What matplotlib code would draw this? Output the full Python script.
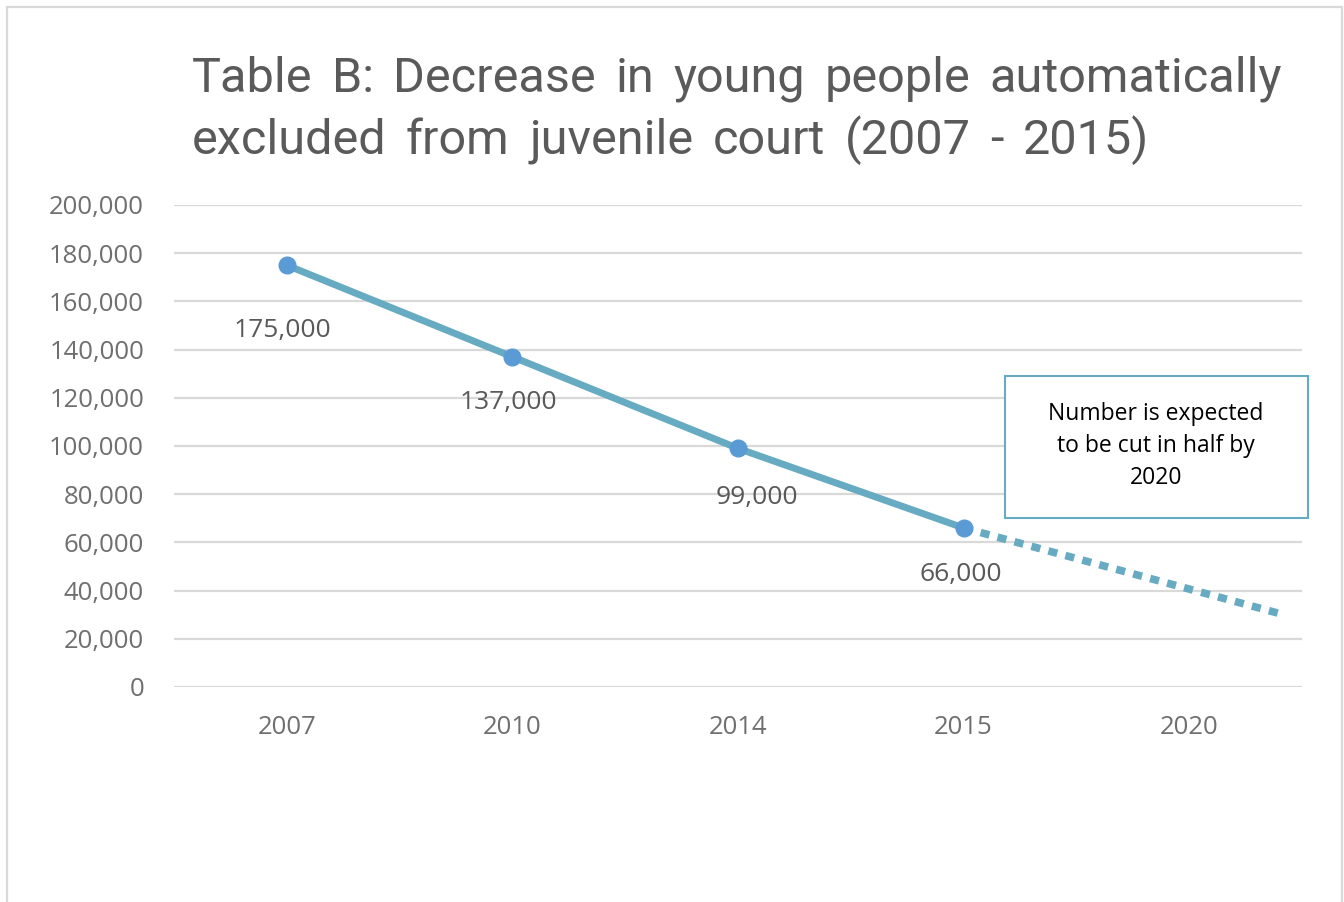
import matplotlib
matplotlib.use("Agg")
import matplotlib.pyplot as plt
from matplotlib.patches import Rectangle
from matplotlib.ticker import FuncFormatter

# ---- data ----
categories = ["2007", "2010", "2014", "2015", "2020"]
actual_values = [175000, 137000, 99000, 66000]
projection_positions = [3, 4.4]
projection_values = [66000, 30500]
label_texts = ["175,000", "137,000", "99,000", "66,000"]
title_lines = ["Table B: Decrease in young people automatically",
               "excluded from juvenile court (2007 - 2015)"]
note_text = "Number is expected\nto be cut in half by\n2020"

W, H = 1344, 902
fig = plt.figure(figsize=(W / 100, H / 100), dpi=100)
fig.patch.set_facecolor("white")

# outer border
fig.add_artist(Rectangle((7 / W, -0.01), (1342 - 7) / W, (H - 7) / H + 0.01,
                         transform=fig.transFigure, fill=False,
                         edgecolor="#d9d9d9", linewidth=1.6))

ax = fig.add_axes([174 / W, (H - 687) / H, (1302 - 174) / W, (687 - 205) / H])
ax.set_xlim(-0.5, 4.5)
ax.set_ylim(0, 200000)
ax.set_yticks(range(0, 200001, 20000))
ax.yaxis.set_major_formatter(FuncFormatter(lambda v, p: f"{int(v):,}"))
ax.set_xticks(range(len(categories)))
ax.set_xticklabels(categories)
ax.grid(axis="y", color="#d9d9d9", linewidth=1.6)
ax.set_axisbelow(True)
for s in ax.spines.values():
    s.set_visible(False)
ax.tick_params(length=0, labelsize=18.5, labelcolor="#6f6f6f")
ax.tick_params(axis="y", pad=21.5)
ax.tick_params(axis="x", pad=20)
for lab in ax.get_xticklabels() + ax.get_yticklabels():
    lab.set_fontfamily("Open Sans")

line_color = "#67abc2"
xs = list(range(len(actual_values)))
ax.plot(projection_positions, projection_values, color=line_color, linewidth=5.5,
        dashes=(1.2, 1.1), dash_capstyle="butt", zorder=2)
ax.plot(xs, actual_values, color=line_color, linewidth=5, solid_capstyle="round",
        marker="o", markersize=12, markerfacecolor="#5b9bd5",
        markeredgecolor="#5b9bd5", zorder=3)

label_offsets = [(-4, -65), (-4, -46), (19, -49), (-3, -47)]
for x, v, t, off in zip(xs, actual_values, label_texts, label_offsets):
    ax.annotate(t, (x, v), xytext=off, textcoords="offset pixels",
                ha="center", va="center", fontsize=19, color="#595959",
                family="Open Sans")

# note box
fig.text(1156 / W, 1 - 446 / H, note_text, ha="center", va="center",
         fontsize=16.5, family="Open Sans", color="black", linespacing=1.45)
fig.add_artist(Rectangle((1005 / W, 1 - 518 / H), (1308 - 1005) / W, (518 - 376) / H,
                         transform=fig.transFigure, facecolor="white",
                         edgecolor="#67abc2", linewidth=1.5, zorder=1))

# justified title
title_kw = dict(fontsize=35, color="#5a5a5a", family="Roboto", weight="normal",
                va="baseline")
fig.canvas.draw()
renderer = fig.canvas.get_renderer()
x0, x1 = 192, 1282
baselines = [92, 154]
line_words = [l.split(" ") for l in title_lines]
widths = []
for words in line_words:
    ws = []
    for w in words:
        t = fig.text(0, 0, w, **title_kw)
        ws.append(t.get_window_extent(renderer).width)
        t.remove()
    widths.append(ws)
gap = (x1 - x0 - sum(widths[0])) / (len(widths[0]) - 1)
for words, ws, b in zip(line_words, widths, baselines):
    x = x0
    for w, wd in zip(words, ws):
        fig.text(x / W, 1 - b / H, w, **title_kw)
        x += wd + gap

fig.savefig("out.png", dpi=100, facecolor="white")
